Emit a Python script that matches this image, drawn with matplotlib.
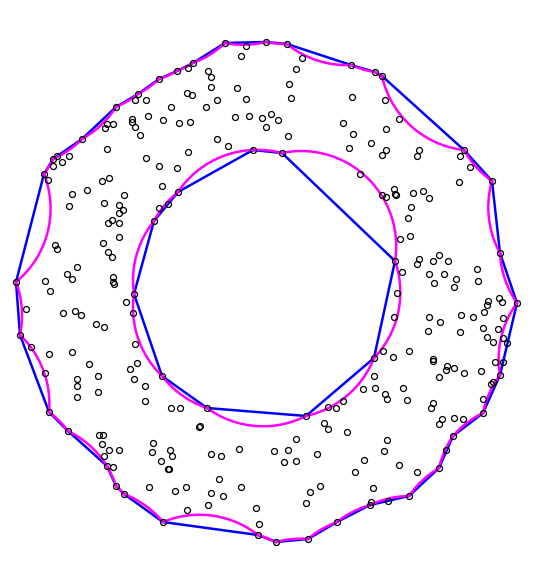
import numpy as np
import matplotlib
matplotlib.use("Agg")
from matplotlib import pyplot as plt

# sample points (x, y), y grows downwards
px = [177, 159, 138, 135, 146, 116, 171, 148, 163, 132, 132, 135, 107, 113, 105, 140, 82, 107, 69, 57,
      53, 62, 53, 146, 159, 177, 179,
      188, 193, 225, 246, 241, 266, 287, 302, 296, 351, 208, 211, 211, 187, 192, 237, 217, 246, 289, 291,
      352, 206, 190, 235, 249, 262, 271, 278, 266, 343, 353, 288, 217, 228, 188, 349, 253, 282,
      375, 382, 385, 399, 386, 371, 386, 382, 419, 417, 464, 460, 470,
      44, 48, 102, 109, 162, 87, 72, 124, 69, 104, 119, 123, 119, 178, 168, 159, 112, 108, 119, 154,
      119, 103, 55, 57, 108, 112, 77, 67, 72, 113, 113, 114, 16, 45, 50, 134, 126,
      360, 492, 459, 394, 395, 396, 382, 386, 413, 423, 429, 411, 408, 410, 400, 500, 439, 419, 417,
      433, 448, 395, 402, 429, 444, 477, 456, 434, 478, 454, 397, 499, 488, 502, 517,
      26, 63, 75, 81, 96, 104, 133, 20, 31, 49, 72, 135, 137, 89, 130, 45, 77, 98, 77, 134, 145, 162,
      98, 77, 145, 49, 171, 180, 68, 99, 103,
      207, 199, 200, 306, 328, 336, 343, 324, 328, 347, 296,
      487, 394, 429, 440, 461, 473, 484, 503, 428, 460, 483, 498, 487, 493, 503, 507, 383, 393, 409,
      374, 433, 433, 495, 503, 447, 446, 454, 464, 481, 500, 374, 439, 493, 491, 363, 375, 403, 385,
      387, 407, 483, 433, 431, 483, 442, 439, 454, 463, 453, 387,
      102, 109, 119, 104, 107, 113, 153, 152, 170, 172, 161, 168, 169, 149, 175, 116, 124, 163,
      186, 211, 221, 239, 274, 288, 284, 296, 317, 219, 211, 223, 241, 320, 310, 306, 208, 187, 256,
      259, 355, 258, 276, 308, 337,
      384, 364, 399, 417, 446, 439, 373, 371, 370, 388, 409]
py = [71, 79, 94, 100, 100, 107, 107, 116, 120, 119, 122, 127, 124, 124, 128, 135, 139, 149, 156, 156,
      159, 162, 166, 158, 166, 168, 123,
      68, 63, 43, 46, 56, 42, 44, 58, 69, 65, 71, 77, 87, 93, 95, 88, 100, 99, 84, 98,
      97, 107, 122, 117, 116, 118, 114, 120, 127, 123, 134, 136, 139, 146, 152, 148, 150, 153,
      72, 76, 100, 119, 129, 143, 150, 155, 150, 156, 150, 156, 167,
      174, 180, 181, 178, 186, 190, 194, 195, 206, 203, 205, 210, 213, 192, 204, 208, 220, 223, 223, 221,
      237, 243, 245, 249, 252, 257, 267, 274, 279, 277, 282, 284, 282, 281, 291, 294, 302,
      174, 181, 182, 189, 194, 195, 195, 197, 193, 191, 198, 207, 218, 236, 239, 253, 255, 259, 264,
      261, 261, 261, 272, 274, 274, 269, 279, 283, 281, 287, 293, 298, 301, 302, 303,
      309, 313, 311, 315, 324, 327, 313, 335, 347, 354, 352, 344, 363, 364, 369, 373, 379, 376, 386, 379, 386, 376,
      392, 397, 401, 412, 408, 408, 431, 435, 435,
      408, 427, 426, 416, 407, 408, 401, 423, 429, 432, 439,
      305, 317, 317, 322, 315, 317, 312, 318, 331, 332, 328, 329, 337, 342, 338, 343, 351, 357, 351,
      358, 359, 361, 362, 362, 366, 370, 368, 373, 371, 375, 376, 377, 382, 384, 389, 388, 388, 394,
      399, 400, 399, 403, 408, 413, 419, 424, 418, 419, 436, 440,
      444, 450, 450, 456, 466, 467, 443, 452, 450, 456, 461, 469, 469, 487, 491, 486, 494, 522,
      487, 454, 456, 449, 451, 450, 462, 461, 454, 479, 493, 496, 487, 486, 492, 503, 505, 510, 508,
      524, 472, 535, 542, 539, 522,
      451, 460, 465, 472, 450, 468, 488, 502, 505, 501, 496]

# boundary vertices of the outer ring and of the hole, in order
outer_x = [225, 266, 287, 351, 375, 382, 464, 492, 500, 517, 500, 483, 453, 439, 409, 370, 337, 308,
           276, 258, 163, 124, 116, 107, 68, 49, 20, 16, 44, 53, 82, 116, 138, 159, 177, 193]
outer_y = [43, 42, 44, 65, 72, 76, 150, 181, 253, 303, 375, 413, 436, 468, 496, 505, 522, 539,
           542, 535, 522, 494, 486, 466, 431, 412, 335, 282, 174, 159, 139, 107, 94, 79, 71, 63]
inner_x = [253, 282, 395, 374, 306, 207, 162, 134, 154, 178]
inner_y = [150, 153, 261, 358, 416, 408, 376, 294, 221, 192]

alpha = 95


def arc(p, q, centre, towards):
    # circle of radius alpha through p and q, centre on the side given by towards
    p, q = np.array(p, float), np.array(q, float)
    m = (p + q) / 2
    h = np.linalg.norm(q - p) / 2
    n = np.array([-(q - p)[1], (q - p)[0]]) / (2 * h)
    if np.dot(n, centre - m) * towards < 0:
        n = -n
    c = m + n * np.sqrt(max(alpha ** 2 - h ** 2, 0))
    a1 = np.arctan2(*(p - c)[::-1])
    a2 = np.arctan2(*(q - c)[::-1])
    d = (a2 - a1 + np.pi) % (2 * np.pi) - np.pi
    t = a1 + np.linspace(0, d, 60)
    return c[0] + alpha * np.cos(t), c[1] + alpha * np.sin(t)


fig = plt.figure(figsize=(5.35, 5.78), dpi=100)
ax = fig.add_axes([0, 0, 1, 1])
centre = np.array([np.mean(px), np.mean(py)])

for xs, ys, side in [(outer_x, outer_y, -1), (inner_x, inner_y, 1)]:
    ax.plot(xs + xs[:1], ys + ys[:1], color='#0000ff', lw=1.8, zorder=2)
    for i in range(len(xs)):
        j = (i + 1) % len(xs)
        ax_, ay_ = arc((xs[i], ys[i]), (xs[j], ys[j]), centre, side)
        ax.plot(ax_, ay_, color='#ff00ff', lw=1.8, zorder=3)

ax.plot(px, py, 'o', mfc='none', mec='black', ms=4.3, mew=0.9, zorder=4)

ax.set_xlim(0, 535)
ax.set_ylim(578, 0)
ax.axis('off')
fig.savefig('out.png', dpi=100)
